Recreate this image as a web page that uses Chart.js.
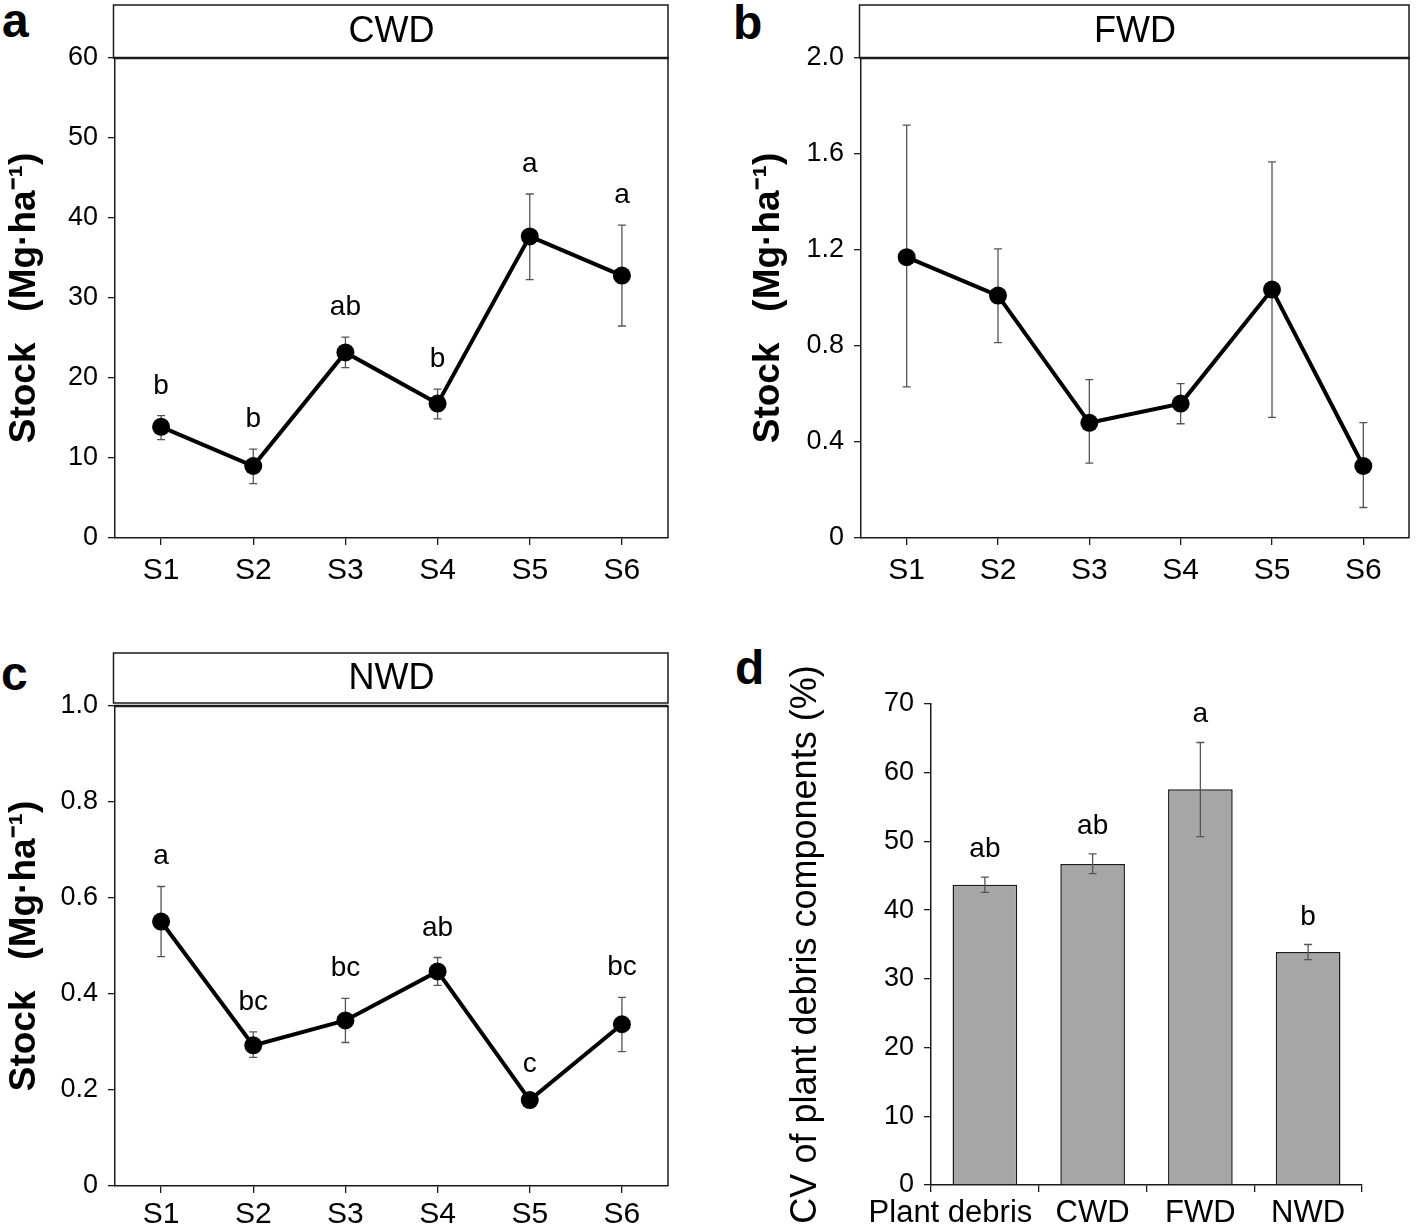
<!DOCTYPE html>
<html><head><meta charset="utf-8">
<script src="https://cdn.jsdelivr.net/npm/chart.js@4.4.0/dist/chart.umd.min.js"></script>
<style>
body{margin:0;background:#fff;width:1418px;height:1230px;overflow:hidden;position:relative;font-family:"Liberation Sans",Arial,sans-serif}
canvas{position:absolute}
.lbl{position:absolute;font-weight:bold;font-size:48px;line-height:1;color:#000}
</style></head><body>
<div class="lbl" style="left:2px;top:-3px">a</div>
<div class="lbl" style="left:733px;top:-1px">b</div>
<div class="lbl" style="left:1px;top:650px">c</div>
<div class="lbl" style="left:735px;top:644px">d</div>
<canvas id="ca" width="700" height="600" style="left:0;top:0;width:700px;height:600px"></canvas>
<canvas id="cb" width="718" height="600" style="left:700px;top:0;width:718px;height:600px"></canvas>
<canvas id="cc" width="700" height="582" style="left:0;top:648px;width:700px;height:582px"></canvas>
<canvas id="cd" width="718" height="590" style="left:700px;top:640px;width:718px;height:590px"></canvas>
<script>
// ---------- data ----------
const sites = ['S1','S2','S3','S4','S5','S6'];

const cwdMean  = [13.9, 9.0, 23.2, 16.8, 37.7, 32.8];
const cwdUpper = [15.3, 11.1, 25.1, 18.6, 43.0, 39.1];
const cwdLower = [12.3, 6.8, 21.3, 14.9, 32.3, 26.5];
const cwdLetters = ['b','b','ab','b','a','a'];
const cwdTicks = ['0','10','20','30','40','50','60'];

const fwdMean  = [1.17, 1.01, 0.48, 0.56, 1.035, 0.30];
const fwdUpper = [1.72, 1.205, 0.66, 0.643, 1.567, 0.481];
const fwdLower = [0.63, 0.814, 0.312, 0.476, 0.503, 0.127];
const fwdLetters = ['','','','','',''];
const fwdTicks = ['0','0.4','0.8','1.2','1.6','2.0'];

const nwdMean  = [0.551, 0.293, 0.345, 0.447, 0.179, 0.337];
const nwdUpper = [0.624, 0.321, 0.391, 0.476, 0.191, 0.393];
const nwdLower = [0.478, 0.268, 0.299, 0.418, 0.168, 0.280];
const nwdLetters = ['a','bc','bc','ab','c','bc'];
const nwdTicks = ['0','0.2','0.4','0.6','0.8','1.0'];

const components = ['Plant debris','CWD','FWD','NWD'];
const cvMean  = [43.7, 46.7, 57.6, 33.9];
const cvUpper = [44.8, 48.2, 64.4, 35.0];
const cvLower = [42.6, 45.3, 50.7, 32.8];
const cvLetters = ['ab','ab','a','b'];
const cvTicks = ['0','10','20','30','40','50','60','70'];

const stockTitle = 'Stock   (Mg\u00B7ha\u207B\u00B9)';
const cvTitle = 'CV of plant debris components (%)';

// ---------- plugins ----------
const FONT = '"Liberation Sans", Arial, sans-serif';

const framePlugin = {
  id: 'frame',
  afterDraw(chart, args, o) {
    if (!o || !o.strip) return;
    const ctx = chart.ctx, a = chart.chartArea;
    ctx.save();
    ctx.strokeStyle = '#1a1a1a';
    ctx.lineWidth = 1.5;
    ctx.beginPath();
    ctx.moveTo(a.right, a.top); ctx.lineTo(a.right, a.bottom);
    ctx.stroke();
    ctx.strokeRect(a.left - 1.5, o.stripTop, a.right - a.left + 1.5, o.stripBottom - o.stripTop);
    ctx.lineWidth = 2.5;
    ctx.beginPath();
    ctx.moveTo(a.left - 1, a.top); ctx.lineTo(a.right + 0.5, a.top);
    ctx.stroke();
    ctx.fillStyle = '#000';
    ctx.font = '36px ' + FONT;
    ctx.textAlign = 'center';
    ctx.textBaseline = 'middle';
    ctx.fillText(o.strip, (a.left + a.right) / 2, (o.stripTop + o.stripBottom) / 2 + 1);
    ctx.restore();
  }
};

function drawErr(chart, o) {
  const ctx = chart.ctx, meta = chart.getDatasetMeta(0), ys = chart.scales.y;
  ctx.save();
  ctx.strokeStyle = '#555';
  ctx.lineWidth = 1.3;
  meta.data.forEach((el, i) => {
    const x = el.x, yu = ys.getPixelForValue(o.upper[i]), yl = ys.getPixelForValue(o.lower[i]);
    ctx.beginPath();
    ctx.moveTo(x, yu); ctx.lineTo(x, yl);
    ctx.moveTo(x - 4, yu); ctx.lineTo(x + 4, yu);
    ctx.moveTo(x - 4, yl); ctx.lineTo(x + 4, yl);
    ctx.stroke();
  });
  ctx.restore();
}
const errPlugin = {
  id: 'err',
  beforeDatasetsDraw(chart, args, o) { if (o && o.upper && !o.above) drawErr(chart, o); },
  afterDatasetsDraw(chart, args, o) {
    if (!o || !o.upper) return;
    if (o.above) drawErr(chart, o);
    const ctx = chart.ctx, meta = chart.getDatasetMeta(0), ys = chart.scales.y;
    ctx.save();
    ctx.fillStyle = '#000';
    ctx.font = '28px ' + FONT;
    ctx.textAlign = 'center';
    ctx.textBaseline = 'alphabetic';
    meta.data.forEach((el, i) => {
      if (o.letters[i]) ctx.fillText(o.letters[i], el.x, ys.getPixelForValue(o.upper[i]) - o.gap);
    });
    ctx.restore();
  }
};

function makeChart(id, opt) {
  const canvas = document.getElementById(id);
  const H = canvas.height;
  const isBar = opt.type === 'bar';
  const dataset = isBar ? {
    data: opt.mean, backgroundColor: '#a6a6a6', borderColor: '#1a1a1a', borderWidth: 1.5,
    barPercentage: 0.6, categoryPercentage: 1.0
  } : {
    data: opt.mean, borderColor: '#000', borderWidth: 4, pointRadius: 9,
    pointBackgroundColor: '#000', pointBorderColor: '#000', pointBorderWidth: 0,
    tension: 0, fill: false
  };
  return new Chart(canvas, {
    type: opt.type,
    data: { labels: opt.labels, datasets: [dataset] },
    options: {
      responsive: false, animation: false, devicePixelRatio: 1,
      layout: { padding: { left: opt.padL, top: opt.top, right: canvas.width - opt.right, bottom: 0 } },
      plugins: {
        legend: { display: false }, tooltip: { enabled: false },
        frame: opt.frame || {},
        err: { upper: opt.upper, lower: opt.lower, letters: opt.letters, above: isBar, gap: opt.gap }
      },
      scales: {
        x: {
          type: 'category', offset: true,
          grid: { display: true, offset: isBar, drawOnChartArea: false, drawTicks: true, tickLength: 7, color: '#1a1a1a', lineWidth: 1.3 },
          border: { display: true, color: '#1a1a1a', width: 1.5 },
          ticks: {
            font: { size: opt.xFont, family: FONT }, color: '#000', padding: opt.xPad, maxRotation: 0, autoSkip: false,
            callback: (v, i) => opt.labels[i] + (opt.labelPad ? opt.labelPad[i] : '')
          },
          afterFit(s) { s.height = H - opt.bottom; }
        },
        y: {
          min: 0, max: opt.max,
          grid: { display: true, drawOnChartArea: false, drawTicks: true, tickLength: 7, color: '#1a1a1a', lineWidth: 1.3 },
          border: { display: true, color: '#1a1a1a', width: 1.5 },
          ticks: {
            stepSize: opt.step, font: { size: 27, family: FONT }, color: '#000', padding: 10,
            callback: (v) => opt.ticks[Math.round(v / opt.step)]
          },
          title: {
            display: true, text: opt.title, color: '#000',
            font: { size: opt.titleSize, weight: opt.titleBold ? 'bold' : 'normal', family: FONT },
            padding: { top: opt.titlePad, bottom: 0 }
          },
          afterFit(s) { s.width = opt.left - opt.padL; }
        }
      }
    },
    plugins: [framePlugin, errPlugin]
  });
}

makeChart('ca', {
  type: 'line', labels: sites, mean: cwdMean, upper: cwdUpper, lower: cwdLower, letters: cwdLetters,
  ticks: cwdTicks, max: 60, step: 10, title: stockTitle, titleBold: true, titleSize: 37, titlePad: 3,
  padL: 0, left: 115, right: 668, top: 58, bottom: 538, xPad: 8, xFont: 30, gap: 22,
  frame: { strip: 'CWD', stripTop: 5, stripBottom: 58 }
});
makeChart('cb', {
  type: 'line', labels: sites, mean: fwdMean, upper: fwdUpper, lower: fwdLower, letters: fwdLetters,
  ticks: fwdTicks, max: 2.0, step: 0.4, title: stockTitle, titleBold: true, titleSize: 37, titlePad: 3,
  padL: 44, left: 161, right: 715, top: 58, bottom: 538, xPad: 8, xFont: 30, gap: 22,
  frame: { strip: 'FWD', stripTop: 5, stripBottom: 58 }
});
makeChart('cc', {
  type: 'line', labels: sites, mean: nwdMean, upper: nwdUpper, lower: nwdLower, letters: nwdLetters,
  ticks: nwdTicks, max: 1.0, step: 0.2, title: stockTitle, titleBold: true, titleSize: 37, titlePad: 3,
  padL: 0, left: 115, right: 668, top: 58, bottom: 538, xPad: 4, xFont: 30, gap: 22,
  frame: { strip: 'NWD', stripTop: 5, stripBottom: 55 }
});
makeChart('cd', {
  type: 'bar', labels: components, mean: cvMean, upper: cvUpper, lower: cvLower, letters: cvLetters,
  labelPad: ['        ', '', '', ''],
  ticks: cvTicks, max: 70, step: 10, title: cvTitle, titleBold: false, titleSize: 36, titlePad: 4,
  padL: 80, left: 231, right: 662, top: 64, bottom: 545, xPad: 3, xFont: 31, gap: 20
});
</script>
</body></html>
